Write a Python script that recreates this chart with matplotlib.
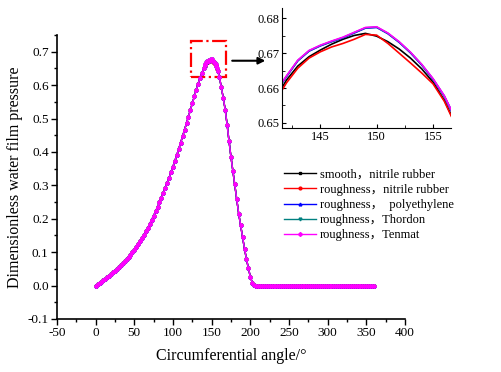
import numpy as np
import matplotlib.pyplot as plt
from matplotlib.patches import Rectangle
from matplotlib.ticker import MultipleLocator

plt.rcParams['font.family'] = ['Liberation Serif', 'Noto Sans CJK SC']
plt.rcParams['axes.unicode_minus'] = False

# pressure away from the peak, 2.5 deg step (same for every case)
rise_angle = np.arange(0, 140, 2.5)
rise_p = [0.000, 0.004, 0.008, 0.012, 0.016, 0.020, 0.025, 0.030, 0.035, 0.040,
          0.045, 0.050, 0.056, 0.062, 0.067, 0.073, 0.079, 0.086, 0.093, 0.100,
          0.107, 0.115, 0.123, 0.132, 0.141, 0.151, 0.162, 0.173, 0.185, 0.197,
          0.209, 0.222, 0.235, 0.249, 0.263, 0.277, 0.292, 0.307, 0.323, 0.339,
          0.356, 0.373, 0.391, 0.409, 0.428, 0.447, 0.466, 0.486, 0.506, 0.526,
          0.546, 0.566, 0.585, 0.604, 0.621, 0.636]
fall_angle = np.arange(160, 207.5, 2.5)
fall_p = [0.625, 0.594, 0.562, 0.527, 0.482, 0.432, 0.385, 0.343, 0.303, 0.260,
          0.215, 0.180, 0.145, 0.110, 0.080, 0.052, 0.027, 0.009, 0.001]
flat_angle = np.arange(207.5, 360.1, 2.5)
flat_p = [0.0] * len(flat_angle)

# peak region, 1 deg step
peak_angle = np.arange(140, 159, 1)
peak_smooth_nbr = [0.6505, 0.6568, 0.6623, 0.6663, 0.6690, 0.6709, 0.6726, 0.6740, 0.6751, 0.6757,
                   0.6749, 0.6733, 0.6712, 0.6686, 0.6655, 0.6617, 0.6565, 0.6495, 0.6410]
peak_rough_nbr = [0.6500, 0.6562, 0.6615, 0.6657, 0.6686, 0.6704, 0.6718, 0.6728, 0.6740, 0.6754,
                  0.6752, 0.6728, 0.6700, 0.6672, 0.6643, 0.6612, 0.6562, 0.6493, 0.6410]
peak_rough_pe = [0.6513, 0.6585, 0.6633, 0.6678, 0.6706, 0.6721, 0.6733, 0.6744, 0.6758, 0.6772,
                 0.6774, 0.6756, 0.6731, 0.6701, 0.6666, 0.6625, 0.6576, 0.6510, 0.6428]
peak_rough_thordon = [0.6514, 0.6586, 0.6634, 0.6679, 0.6707, 0.6722, 0.6734, 0.6745, 0.6759, 0.6773,
                      0.6775, 0.6757, 0.6732, 0.6702, 0.6667, 0.6626, 0.6577, 0.6511, 0.6429]
peak_rough_tenmat = [0.6515, 0.6588, 0.6635, 0.6680, 0.6708, 0.6723, 0.6735, 0.6746, 0.6760, 0.6774,
                     0.6776, 0.6758, 0.6733, 0.6703, 0.6668, 0.6627, 0.6578, 0.6512, 0.6430]

labels = ['smooth，nitrile rubber', 'roughness，nitrile rubber', 'roughness，  polyethylene',
          'roughness，Thordon', 'roughness，Tenmat']
peaks = [peak_smooth_nbr, peak_rough_nbr, peak_rough_pe, peak_rough_thordon, peak_rough_tenmat]
colors = ['black', 'red', 'blue', '#008080', 'magenta']
markers = ['s', 'o', '^', 'v', 'D']

angle = np.concatenate([rise_angle, peak_angle, fall_angle, flat_angle])

fig = plt.figure(figsize=(5.02, 3.72), dpi=100)
ax = fig.add_axes([0.1135, 0.1425, 0.6932, 0.7634])

for lab, pk, c, m in zip(labels, peaks, colors, markers):
    p = np.concatenate([rise_p, pk, fall_p, flat_p])
    ax.plot(angle, p, color=c, lw=1.0, marker=m, ms=2.0, mec=c, label=lab)

ax.set_xlim(-50, 400)
ax.set_ylim(-0.1, 0.75)
ax.xaxis.set_major_locator(MultipleLocator(50))
ax.xaxis.set_minor_locator(MultipleLocator(25))
ax.yaxis.set_major_locator(MultipleLocator(0.1))
ax.yaxis.set_minor_locator(MultipleLocator(0.05))
ax.yaxis.set_major_formatter(lambda v, pos: f'{v:.1f}')
for s in ['top', 'right']:
    ax.spines[s].set_visible(False)
for s in ['left', 'bottom']:
    ax.spines[s].set_linewidth(1.2)
ax.tick_params(which='major', direction='out', length=4, width=1, labelsize=9.5, pad=2)
ax.tick_params(which='minor', direction='out', length=2.5, width=1)
ax.set_xlabel('Circumferential angle/°', fontsize=11.5, labelpad=6)
ax.set_ylabel('Dimensionless water film pressure', fontsize=11.5, labelpad=3)

# zoom box and arrow
ax.add_patch(Rectangle((123, 0.625), 45, 0.108, fill=False, ec='red', lw=1.6, ls='-.'))
ax.annotate('', xy=(223, 0.673), xytext=(173, 0.673),
            arrowprops=dict(arrowstyle='-|>', color='black', lw=1.5, mutation_scale=10))

ax.legend(loc='upper left', bbox_to_anchor=(0.555, 0.56), bbox_transform=fig.transFigure,
          frameon=False, fontsize=9, handlelength=2.6, handletextpad=0.3, labelspacing=0.25,
          borderaxespad=0)

# inset around the peak
axi = fig.add_axes([0.5618, 0.6559, 0.3367, 0.3226])
for pk, c in zip(peaks, colors):
    axi.plot(peak_angle, pk, color=c, lw=1.2)
axi.set_xlim(141.6, 156.6)
axi.set_ylim(0.6485, 0.683)
axi.xaxis.set_major_locator(MultipleLocator(5))
axi.xaxis.set_minor_locator(MultipleLocator(2.5))
axi.yaxis.set_major_locator(MultipleLocator(0.01))
axi.yaxis.set_minor_locator(MultipleLocator(0.005))
axi.yaxis.set_major_formatter(lambda v, pos: f'{v:.2f}')
for s in ['top', 'right']:
    axi.spines[s].set_visible(False)
axi.tick_params(which='major', direction='in', length=3, labelsize=9, pad=2)
axi.tick_params(which='minor', direction='in', length=2)

fig.savefig('out.png', dpi=100)
